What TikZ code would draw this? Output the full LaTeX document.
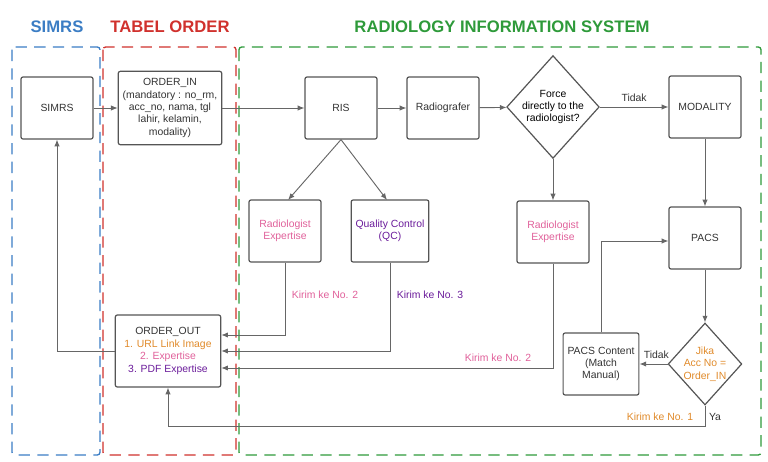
\documentclass[tikz,border=0pt]{standalone}
\usepackage{fontspec}
\setmainfont{Liberation Sans}
\usetikzlibrary{shapes.geometric,arrows.meta}
\definecolor{cblue}{HTML}{3B7DC4}
\definecolor{cred}{HTML}{D0312D}
\definecolor{cgreen}{HTML}{2E9A3A}
\definecolor{cpink}{HTML}{E0609A}
\definecolor{cpurp}{HTML}{6A1B9A}
\definecolor{corg}{HTML}{E08A2A}
\definecolor{cline}{HTML}{555555}
\begin{document}
\begin{tikzpicture}[x=0.75pt,y=-0.75pt,
  box/.style={draw=cline,line width=0.9pt,rounded corners=1.5pt,minimum width=54pt,minimum height=46.5pt,align=center,font=\fontsize{7.8}{9.3}\selectfont,text=black!80},
  dia/.style={draw=cline,line width=0.9pt,diamond,aspect=0.9,inner sep=0pt,align=center,font=\fontsize{7.8}{9.3}\selectfont},
  arr/.style={draw=black!60,line width=0.7pt,-{Latex[length=5pt,width=4pt]}},
  lbl/.style={font=\fontsize{7.8}{9.3}\selectfont},
  region/.style={line width=1pt,dash pattern=on 8.5pt off 5.5pt,rounded corners=2pt},
  ttl/.style={font=\fontsize{12.5}{14}\selectfont\bfseries}]
\useasboundingbox (0,0) rectangle (768,461);
\draw[region,cblue] (12,47) rectangle (100,455);
\draw[region,cred] (103,47) rectangle (236,455);
\draw[region,cgreen] (239,47) rectangle (761,455);
\node[ttl,text=cblue] (t1) at (57,27) {SIMRS};
\node[ttl,text=cred] (t2) at (170,27) {TABEL ORDER};
\node[ttl,text=cgreen] (t3) at (502,27) {RADIOLOGY INFORMATION SYSTEM};
\node[box] (simrs) at (57,108) {SIMRS};
\node[box,minimum width=77pt,minimum height=55pt] (oin) at (170,108) {ORDER\_IN\\(mandatory : no\_rm,\\acc\_no, nama, tgl\\lahir, kelamin,\\modality)};
\node[box] (ris) at (341,108) {RIS};
\node[box] (rad) at (443,108) {Radiografer};
\node[dia,minimum width=66pt,minimum height=73pt] (force) at (553,107) {Force\\directly to the\\radiologist?};
\node[box] (mod) at (705,107) {MODALITY};
\node[box,text=cpink] (re1) at (285,231) {Radiologist\\Expertise};
\node[box,text=cpurp] (qc) at (390,231) {Quality Control\\(QC)};
\node[box,text=cpink] (re2) at (553,232) {Radiologist\\Expertise};
\node[box] (pacs) at (705,238) {PACS};
\node[dia,minimum width=52pt,minimum height=60pt,text=corg] (jika) at (705,364) {Jika\\Acc No =\\Order\_IN};
\node[box] (pc) at (601,364) {PACS Content\\(Match\\Manual)};
\node[box,minimum width=79pt,minimum height=54pt] (oout) at (168,351) {ORDER\_OUT\\\textcolor{corg}{1. URL Link Image}\\\textcolor{cpink}{2. Expertise}\\\textcolor{cpurp}{3. PDF Expertise}};
\draw[arr] (simrs.east|-0,108) -- (oin.west|-0,108);
\draw[arr] (oin.east|-0,108) -- (ris.west|-0,108);
\draw[arr] (ris) -- (rad);
\draw[arr] (rad) -- (force);
\draw[arr] (force.east) -- node[lbl,above,text=black!80] (tidak1) {Tidak} (mod.west|-force.east);
\draw[arr] (force.south) -- (re2.north);
\draw[arr] (mod) -- (pacs);
\draw[arr] (pacs) -- (jika.north);
\draw[arr] (jika.west) -- node[lbl,above,text=black!80,pos=0.4] (tidak2) {Tidak} (pc.east|-jika.west);
\draw[arr] (pc.north) |- (pacs.west|-0,241);
\draw[arr] (ris.south) -- (288,200) coordinate (a1);
\draw[arr] (ris.south) -- (387,200) coordinate (a2);
\draw[arr] (re1.south) |- (oout.east|-0,335) coordinate (e1);
\node[lbl,text=cpink] (k2) at (325,295) {Kirim ke No. 2};
\draw[arr] (qc.south) |- (oout.east|-0,351) coordinate (e2);
\node[lbl,text=cpurp] (k3) at (430,295) {Kirim ke No. 3};
\draw[arr] (re2.south) |- (oout.east|-0,368) coordinate (e3);
\node[lbl,text=cpink] (k22) at (498,358) {Kirim ke No. 2};
\draw[arr] (jika.south) -- (705,426) coordinate (c1) -| (oout.south);
\node[lbl,text=corg] (k1) at (660,417) {Kirim ke No. 1};
\node[lbl,text=black!80] (ya) at (715,417) {Ya};
\draw[arr] (oout.west) -| (simrs.south);
\end{tikzpicture}
\end{document}
